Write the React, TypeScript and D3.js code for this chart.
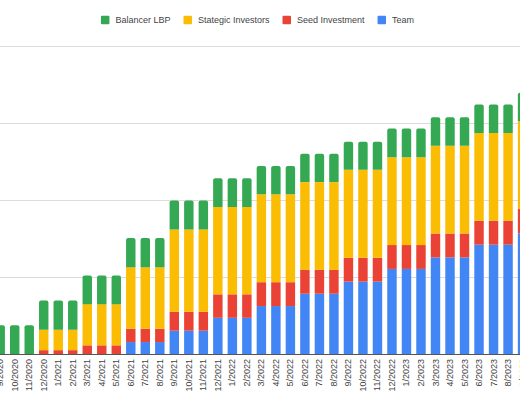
import React from "react";
import * as d3 from "d3";

const months = [
  "9/2020", "10/2020", "11/2020", "12/2020", "1/2021", "2/2021", "3/2021", "4/2021", "5/2021",
  "6/2021", "7/2021", "8/2021", "9/2021", "10/2021", "11/2021", "12/2021", "1/2022", "2/2022",
  "3/2022", "4/2022", "5/2022", "6/2022", "7/2022", "8/2022", "9/2022", "10/2022", "11/2022",
  "12/2022", "1/2023", "2/2023", "3/2023", "4/2023", "5/2023", "6/2023", "7/2023", "8/2023", "9/2023",
];

const team = [
  0, 0, 0, 0, 0, 0, 0, 0, 0,
  3.1, 3.1, 3.1, 6.05, 6.05, 6.05, 9.4, 9.4, 9.4,
  12.45, 12.45, 12.45, 15.65, 15.65, 15.65, 18.8, 18.8, 18.8,
  22.1, 22.1, 22.1, 25.1, 25.1, 25.1, 28.4, 28.4, 28.4, 31.35,
];
const seed = [
  0, 0, 0, 1.0, 1.0, 1.0, 2.25, 2.25, 2.25,
  3.45, 3.45, 3.45, 4.9, 4.9, 4.9, 6.1, 6.1, 6.1,
  6.2, 6.2, 6.2, 6.2, 6.2, 6.2, 6.2, 6.2, 6.2,
  6.2, 6.2, 6.2, 6.2, 6.2, 6.2, 6.2, 6.2, 6.2, 6.3,
];
const strategic = [
  0, 0, 0, 5.3, 5.3, 5.3, 10.7, 10.7, 10.7,
  16.0, 16.0, 16.0, 21.4, 21.4, 21.4, 22.7, 22.7, 22.7,
  22.85, 22.85, 22.85, 22.8, 22.8, 22.8, 22.85, 22.85, 22.85,
  22.8, 22.8, 22.8, 22.8, 22.8, 22.8, 22.8, 22.8, 22.8, 22.8,
];
const balancer = [
  7.45, 7.45, 7.45, 7.6, 7.6, 7.6, 7.45, 7.45, 7.45,
  7.6, 7.6, 7.6, 7.5, 7.5, 7.5, 7.45, 7.45, 7.45,
  7.35, 7.35, 7.35, 7.35, 7.35, 7.35, 7.3, 7.3, 7.3,
  7.45, 7.45, 7.45, 7.4, 7.4, 7.4, 7.4, 7.4, 7.4, 7.4,
];

const yTicks = [0, 20, 40, 60, 80];

const seriesNames = ["Team", "Seed Investment", "Stategic Investors", "Balancer LBP"];
const seriesColors = ["#4285f4", "#ea4335", "#fbbc04", "#34a853"];
const legendOrder = [3, 2, 1, 0];

const W = 520;
const H = 400;
const FONT = "'Liberation Sans', Arial, sans-serif";

function topRounded(x: number, y: number, w: number, h: number, r: number) {
  const rr = Math.min(r, h, w / 2);
  return `M${x},${y + h}V${y + rr}Q${x},${y} ${x + rr},${y}H${x + w - rr}Q${x + w},${y} ${x + w},${y + rr}V${y + h}Z`;
}

function measure(text: string, size: number) {
  if (typeof document === "undefined") return text.length * size * 0.55;
  const c = document.createElement("canvas").getContext("2d");
  if (!c) return text.length * size * 0.55;
  c.font = `${size}px ${FONT}`;
  return c.measureText(text).width;
}

export default function App() {
  const step = 14.51;
  const x0 = 0.2 - step / 2;
  const x = d3
    .scaleBand<string>()
    .domain(months)
    .range([x0, x0 + step * months.length])
    .paddingInner(0.35)
    .paddingOuter(0.175);
  const y = d3.scaleLinear().domain([0, 80]).range([354, 46]);

  const table = months.map((m, i) => ({
    m,
    s0: team[i],
    s1: seed[i],
    s2: strategic[i],
    s3: balancer[i],
  }));
  const stack = d3.stack<any>().keys(["s0", "s1", "s2", "s3"])(table);

  // legend layout
  const fs = 9;
  const sq = 8.5;
  const gapSqText = 6;
  const gapItem = 13;
  const items = legendOrder.map((k) => ({ k, w: measure(seriesNames[k], fs) }));
  const total = items.reduce((a, it) => a + sq + gapSqText + it.w, 0) + gapItem * (items.length - 1);
  let lx = 257.5 - total / 2;
  const legendItems = items.map((it) => {
    const pos = lx;
    lx += sq + gapSqText + it.w + gapItem;
    return { ...it, x: pos };
  });

  const bw = x.bandwidth();

  return (
    <svg
      width={W}
      height={H}
      style={{ position: "absolute", left: 0, top: 0, background: "#fff" }}
      fontFamily={FONT}
    >
      <rect x={0} y={0} width={W} height={H} fill="#fff" />
      {yTicks.slice(1).map((t) => (
        <line key={t} x1={0} x2={W} y1={Math.round(y(t)) + 0.5} y2={Math.round(y(t)) + 0.5} stroke="#dcdcdc" strokeWidth={1} />
      ))}
      {stack.map((layer, li) => (
        <g key={li} fill={seriesColors[li]}>
          {layer.map((d, i) => {
            const top = y(d[1]);
            const bot = y(d[0]);
            const h = bot - top;
            if (h <= 0) return null;
            const bx = x(months[i]) as number;
            // is this the topmost non-empty segment?
            let isTop = true;
            for (let k = li + 1; k < stack.length; k++) {
              if (stack[k][i][1] - stack[k][i][0] > 0) isTop = false;
            }
            if (isTop) return <path key={i} d={topRounded(bx, top, bw, h, 2)} />;
            return <rect key={i} x={bx} y={top} width={bw} height={h} />;
          })}
        </g>
      ))}
      <line x1={0} x2={W} y1={354.5} y2={354.5} stroke="#555" strokeWidth={1} />
      {months.map((m) => {
        const cx = (x(m) as number) + bw / 2;
        return (
          <text
            key={m}
            transform={`translate(${cx},359) rotate(-90)`}
            textAnchor="end"
            dominantBaseline="central"
            fontSize={fs}
            fill="#444"
          >
            {m}
          </text>
        );
      })}
      {legendItems.map((it) => (
        <g key={it.k}>
          <rect x={it.x} y={20 - sq / 2} width={sq} height={sq} rx={1} fill={seriesColors[it.k]} />
          <text x={it.x + sq + gapSqText} y={20} dominantBaseline="central" fontSize={fs} fill="#444">
            {seriesNames[it.k]}
          </text>
        </g>
      ))}
    </svg>
  );
}
